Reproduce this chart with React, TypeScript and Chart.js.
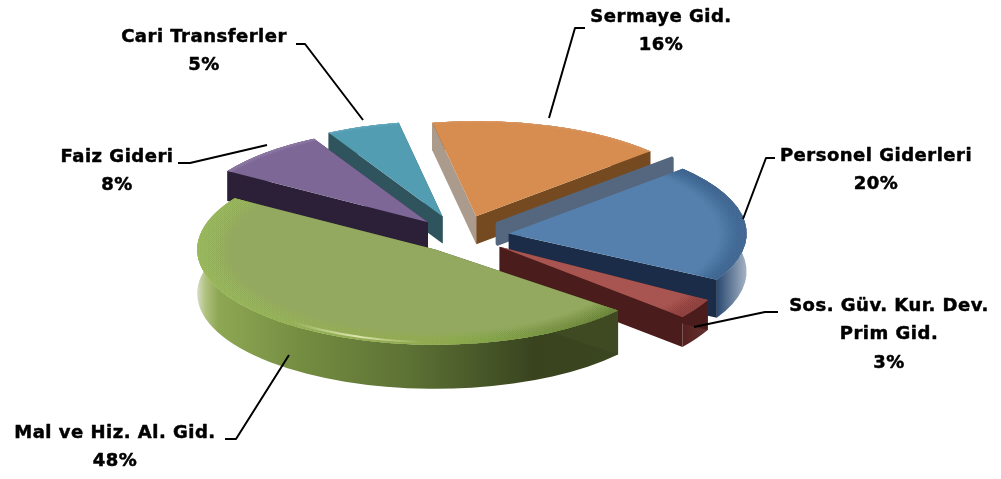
import React, { useEffect, useRef } from "react";
import { Chart, registerables } from "chart.js";

Chart.register(...registerables);

const categories = ["Personel Giderleri", "Sos. Güv. Kur. Dev. Prim Gid.", "Mal ve Hiz. Al. Gid.", "Faiz Gideri", "Cari Transferler", "Sermaye Gid."];
const shares = [20, 3, 48, 8, 5, 16];
const explode = [49, 48, 42, 47, 52, 52];

const topColors = ["#5580ad", "#a85450", "#93a95f", "#7c6796", "#539db3", "#d68d4f"];
const startFace = ["#55677f", "#4a1c1b", "#3f4a22", "#2c2038", "#2f545e", "#ab9b8d"];
const endFace = ["#1a2c47", "#4a1c1b", "#3f4a22", "#2c2038", "#2f545e", "#754a20"];
const wallStops: [number, string][][] = [
  [[0, "#2a466b"], [0.88, "#2f4d74"], [1, "#a5b4c5"]],
  [[0, "#55201f"], [0.6, "#5d2a2a"], [1, "#6a2f2e"]],
  [[0, "#d5dcc5"], [0.02, "#b0c07e"], [0.05, "#8ea754"], [0.25, "#748c40"], [0.5, "#5d7235"], [0.8, "#39441f"], [1, "#3a4620"]],
  [[0, "#2c2038"], [1, "#2c2038"]],
  [[0, "#2f545e"], [1, "#2f545e"]],
  [[0, "#7a4a1e"], [1, "#7a4a1e"]],
];
const rimColors = [
  ["#6b8fb8", "#2f4f78", "#3f6590"],
  ["#8f4240", "#7a3230", "#8f4240"],
  ["#9cba58", "#8dad4d", "#58702c"],
  ["#8f7aa8", "#8f7aa8"],
  ["#62abc0", "#62abc0"],
  ["#dc9760", "#dc9760"],
];
const rimWidths = [30, 30, 34, 8, 6, 6];
const depths = [38, 30, 44, 30, 27, 28];
const squash = [0.4, 0.46, 0.4, 0.4, 0.4, 0.4];

const labelLines = [
  ["Personel Giderleri", "20%"],
  ["Sos. Güv. Kur. Dev.", "Prim Gid.", "3%"],
  ["Mal ve Hiz. Al. Gid.", "48%"],
  ["Faiz Gideri", "8%"],
  ["Cari Transferler", "5%"],
  ["Sermaye Gid.", "16%"],
];
const labelAnchors = [
  [876, 156],
  [889, 306],
  [115, 433],
  [117, 157],
  [204, 37],
  [661, 17],
];
const labelGap = 28.5;
const leaders = [
  [[775, 158], [766, 158], [743, 219]],
  [[778, 312], [765, 312], [694, 327]],
  [[225, 439], [236, 439], [289, 355]],
  [[178, 163], [190, 163], [267, 145]],
  [[296, 44], [305, 44], [363, 120]],
  [[585, 28], [575, 28], [549, 118]],
];

function hGradient(ctx: CanvasRenderingContext2D, x0: number, x1: number, stops: string[]) {
  const g = ctx.createLinearGradient(x0, 0, x1, 0);
  stops.forEach((c, i) => g.addColorStop(i / (stops.length - 1), c));
  return g;
}

function stopGradient(ctx: CanvasRenderingContext2D, x0: number, x1: number, stops: [number, string][]) {
  const g = ctx.createLinearGradient(x0, 0, x1, 0);
  stops.forEach(([p, c]) => g.addColorStop(p, c));
  return g;
}

const pie3d = {
  id: "pie3d",
  beforeDatasetDraw(chart: any) {
    const ctx: CanvasRenderingContext2D = chart.ctx;
    const arcs: any[] = chart.getDatasetMeta(0).data;
    const mids = arcs.map((a) => (a.startAngle + a.endAngle) / 2);
    const order = arcs.map((_, i) => i).sort((p, q) => Math.sin(mids[p]) - Math.sin(mids[q]));

    order.forEach((i) => {
      const a = arcs[i];
      const R = a.outerRadius;
      const k = squash[i];
      const cx = a.x + Math.cos(mids[i]) * explode[i];
      const cy = a.y + Math.sin(mids[i]) * explode[i] * 0.4;
      const d = depths[i];
      const pt = (t: number): [number, number] => [cx + R * Math.cos(t), cy + k * R * Math.sin(t)];
      const s = pt(a.startAngle);
      const e = pt(a.endAngle);

      // outer wall
      ctx.beginPath();
      ctx.ellipse(cx, cy, R, R * k, 0, a.startAngle, a.endAngle);
      ctx.ellipse(cx, cy + d, R, R * k, 0, a.endAngle, a.startAngle, true);
      ctx.closePath();
      ctx.fillStyle = stopGradient(ctx, Math.min(s[0], e[0], i === 2 ? cx - R : i === 0 ? cx : s[0]), i === 0 ? cx + R : Math.max(s[0], e[0]), wallStops[i]);
      ctx.fill();

      const face = (p: [number, number], color: string, sx = 0, sy = 0, h = d, round = 0) => {
        ctx.beginPath();
        ctx.moveTo(cx + sx, cy + sy);
        ctx.lineTo(p[0] + sx, p[1] + sy);
        ctx.lineTo(p[0] + sx, p[1] + sy + h);
        ctx.lineTo(cx + sx, cy + sy + h);
        ctx.closePath();
        ctx.fillStyle = color;
        ctx.fill();
        if (round) {
          ctx.strokeStyle = color;
          ctx.lineJoin = "round";
          ctx.lineWidth = round;
          ctx.stroke();
        }
      };
      if (i === 0) {
        // band raised behind the top of the first slice
        face(s, startFace[i], -11, -10, 20, 4);
      } else {
        face(s, startFace[i]);
      }
      face(e, endFace[i]);

      // top surface, drawn by the arc element
      ctx.save();
      ctx.translate(cx, cy);
      ctx.scale(1, k);
      ctx.translate(-a.x, -a.y);
      a.draw(ctx);

      // rounded rim: annuli stacked so that the colour builds up towards the edge
      ctx.beginPath();
      ctx.moveTo(a.x, a.y);
      ctx.arc(a.x, a.y, R, a.startAngle, a.endAngle);
      ctx.closePath();
      ctx.clip();
      const width = rimWidths[i];
      const rings = 34;
      ctx.fillStyle = hGradient(ctx, a.x - R, a.x + R, rimColors[i]);
      for (let n = 0; n < rings; n++) {
        ctx.globalAlpha = 0.015 + (0.11 * n) / rings;
        ctx.beginPath();
        ctx.arc(a.x, a.y, R + 2, 0, Math.PI * 2);
        ctx.arc(a.x, a.y, R - width * (1 - n / rings), 0, Math.PI * 2, true);
        ctx.fill();
      }
      // specular glint on the front of the largest slice
      if (i === 2) {
        ctx.globalAlpha = 1;
        ctx.strokeStyle = stopGradient(ctx, a.x - R + 95, a.x - R + 225, [
          [0, "rgba(235,240,190,0)"],
          [0.5, "rgba(235,240,190,0.85)"],
          [1, "rgba(235,240,190,0)"],
        ]);
        ctx.lineWidth = 5;
        ctx.beginPath();
        ctx.arc(a.x, a.y, R - 7, a.startAngle, a.endAngle);
        ctx.stroke();
      }
      ctx.restore();
    });
    return false;
  },
  afterDraw(chart: any) {
    const ctx: CanvasRenderingContext2D = chart.ctx;
    ctx.save();
    ctx.strokeStyle = "#000";
    ctx.lineWidth = 2;
    ctx.lineJoin = "round";
    leaders.forEach((pts) => {
      ctx.beginPath();
      pts.forEach((p, n) => (n ? ctx.lineTo(p[0], p[1]) : ctx.moveTo(p[0], p[1])));
      ctx.stroke();
    });
    ctx.fillStyle = "#000";
    ctx.font = 'bold 18px "DejaVu Sans"';
    (ctx as any).letterSpacing = "0.5px";
    ctx.lineWidth = 0.5;
    ctx.textAlign = "center";
    ctx.textBaseline = "middle";
    labelLines.forEach((lines, i) => {
      lines.forEach((t, n) => {
        ctx.fillText(t, labelAnchors[i][0], labelAnchors[i][1] + n * labelGap);
        ctx.strokeText(t, labelAnchors[i][0], labelAnchors[i][1] + n * labelGap);
      });
    });
    ctx.restore();
  },
};

export default function App() {
  const ref = useRef<HTMLCanvasElement>(null);
  useEffect(() => {
    const chart = new Chart(ref.current as HTMLCanvasElement, {
      type: "pie",
      data: {
        labels: categories,
        datasets: [{ data: shares, backgroundColor: topColors, borderWidth: 0, clip: false } as any],
      },
      options: {
        responsive: false,
        animation: false,
        rotation: 47,
        radius: 238,
        layout: { padding: { right: 81, bottom: 7 } },
        plugins: { legend: { display: false }, tooltip: { enabled: false } },
      },
      plugins: [pie3d],
    } as any);
    return () => chart.destroy();
  }, []);
  return (
    <div style={{ position: "absolute", left: 0, top: 0, width: 1001, height: 479, background: "#fff" }}>
      <canvas ref={ref} width={1001} height={479} style={{ display: "block" }} />
    </div>
  );
}
